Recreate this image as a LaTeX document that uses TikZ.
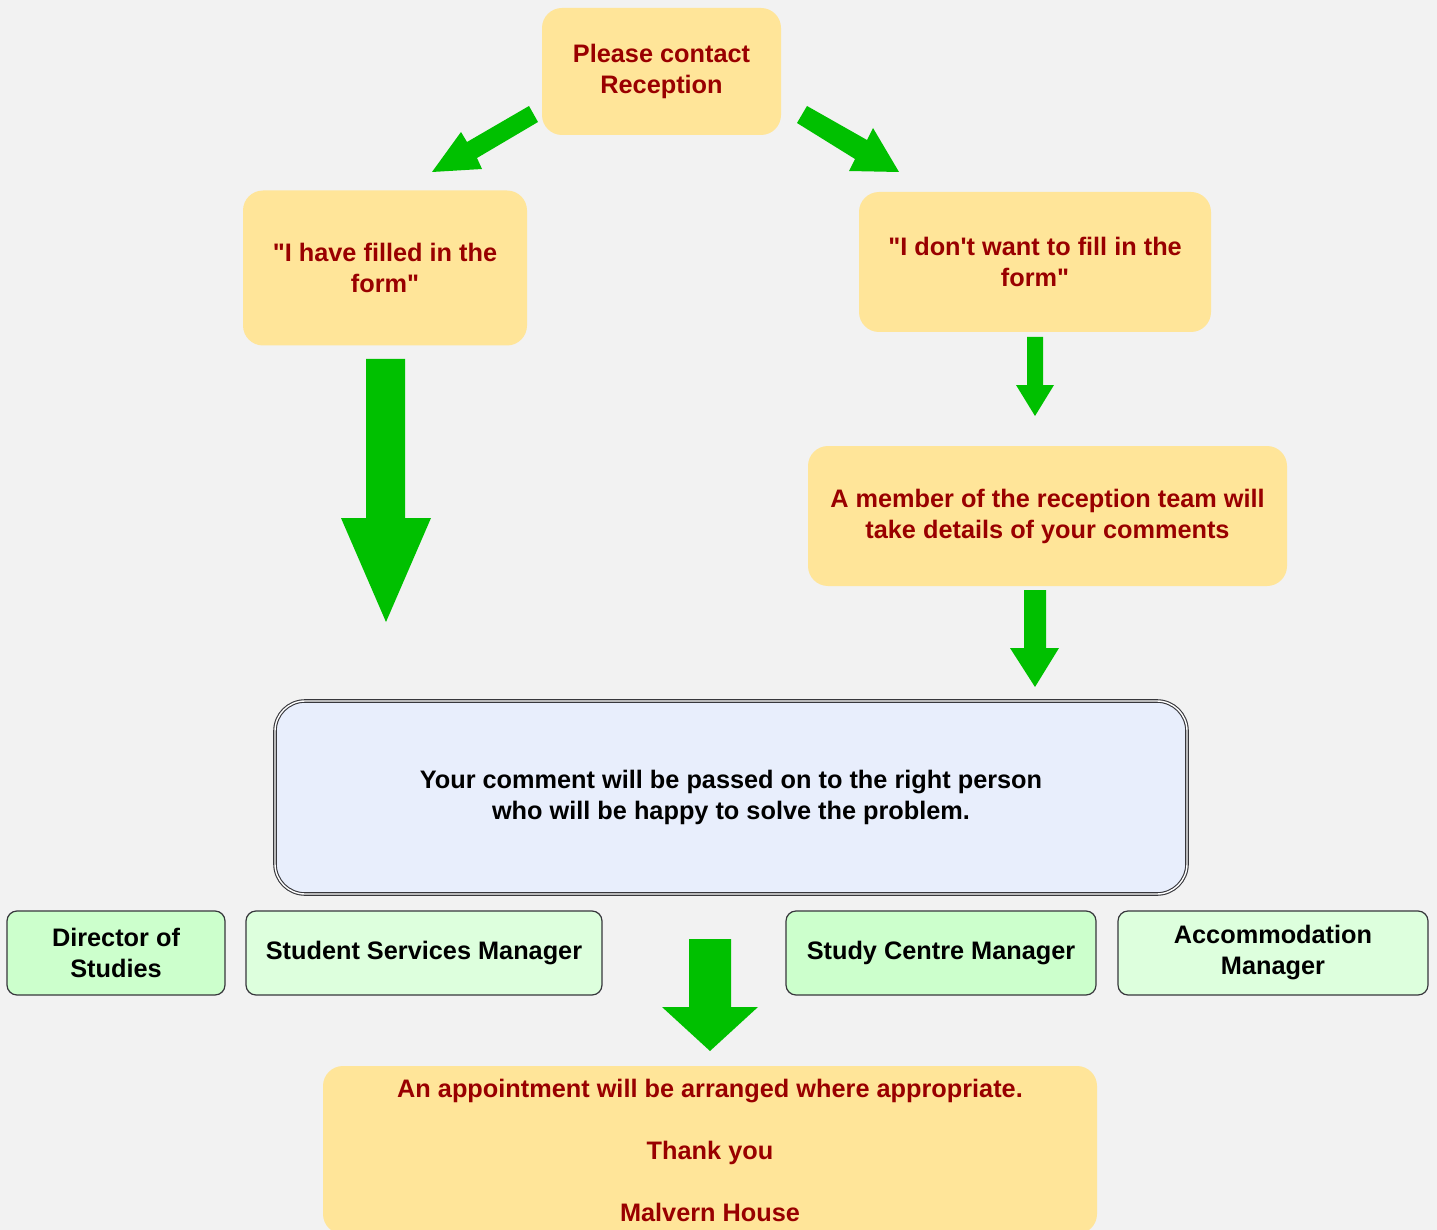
\documentclass[tikz,border=0pt]{standalone}
\usepackage{fontspec}
\setmainfont{Liberation Sans}[Ligatures=TeXOff]
\definecolor{bg}{RGB}{242,242,242}
\definecolor{yfill}{RGB}{255,229,153}
\definecolor{rtext}{RGB}{153,0,0}
\definecolor{garr}{RGB}{0,192,0}
\definecolor{bfill}{RGB}{232,238,252}
\definecolor{gfillA}{RGB}{204,255,204}
\definecolor{gfillB}{RGB}{221,255,221}
\definecolor{edgec}{RGB}{55,55,60}
\begin{document}
\begin{tikzpicture}[x=1pt,y=-1pt,
  txt/.style={font=\fontsize{25.3}{31}\selectfont\bfseries, align=center, inner sep=0pt},
  ybox/.style={txt, rectangle, rounded corners=20pt, fill=yfill, text=rtext},
  gbox/.style={txt, rectangle, rounded corners=10pt, draw=edgec, line width=1.2pt, text=black, minimum height=84pt},
  bbox/.style={txt, rectangle, rounded corners=30pt, fill=bfill, draw=edgec, double=white, double distance=1.4pt, line width=1.1pt, text=black},
  garrow/.style={fill=garr}
]
\useasboundingbox (0,0) rectangle (1437,1230);
\fill[bg] (0,0) rectangle (1437,1230);
\begin{scope}
\clip (0,0) rectangle (1437,1230);

\node[ybox, minimum width=239pt, minimum height=127pt] (contact) at (661.5,71.5) {Please contact\\Reception};
\node[ybox, minimum width=284pt, minimum height=155pt] (filled) at (385,268) {"I have filled in the\\form"};
\node[ybox, minimum width=352pt, minimum height=140pt] (nofill) at (1035,262) {"I don't want to fill in the\\form"};
\node[ybox, minimum width=479pt, minimum height=140pt] (member) at (1047.5,516) {A member of the reception team will\\take details of your comments};

\node[bbox, minimum width=912pt, minimum height=193pt] (passed) at (731,797.5) {Your comment will be passed on to the right person\\who will be happy to solve the problem.};

\node[gbox, fill=gfillA, minimum width=218pt] (dos) at (116,953) {Director of\\Studies};
\node[gbox, fill=gfillB, minimum width=356pt] (ssm) at (424,953) {Student Services Manager};
\node[gbox, fill=gfillA, minimum width=310pt] (scm) at (941,953) {Study Centre Manager};
\node[gbox, fill=gfillB, minimum width=310pt] (acc) at (1273,953) {Accommodation\\Manager};

\node[ybox, minimum width=774pt, minimum height=168pt] (final) at (710,1150) {An appointment will be arranged where appropriate.\\[31pt]Thank you\\[31pt]Malvern House};

% block arrows
\fill[garrow] (529,106) -- (538,122) -- (477,158) -- (482,169) -- (432,172) -- (461,132) -- (467,142) -- cycle;
\fill[garrow] (807,106) -- (867,140) -- (873,128) -- (899,172) -- (849,171) -- (855,159) -- (797,123) -- cycle;
\fill[garrow] (366,359) -- (405,359) -- (405,518) -- (431,518) -- (386,622) -- (341,518) -- (366,518) -- cycle;
\fill[garrow] (1027,337) -- (1043,337) -- (1043,385) -- (1054,385) -- (1035,416) -- (1016,385) -- (1027,385) -- cycle;
\fill[garrow] (1024,590) -- (1046,590) -- (1046,648) -- (1059,648) -- (1035,687) -- (1010,648) -- (1024,648) -- cycle;
\fill[garrow] (689,939) -- (731,939) -- (731,1007) -- (758,1007) -- (710,1051) -- (662,1007) -- (689,1007) -- cycle;
\end{scope}
\end{tikzpicture}
\end{document}
